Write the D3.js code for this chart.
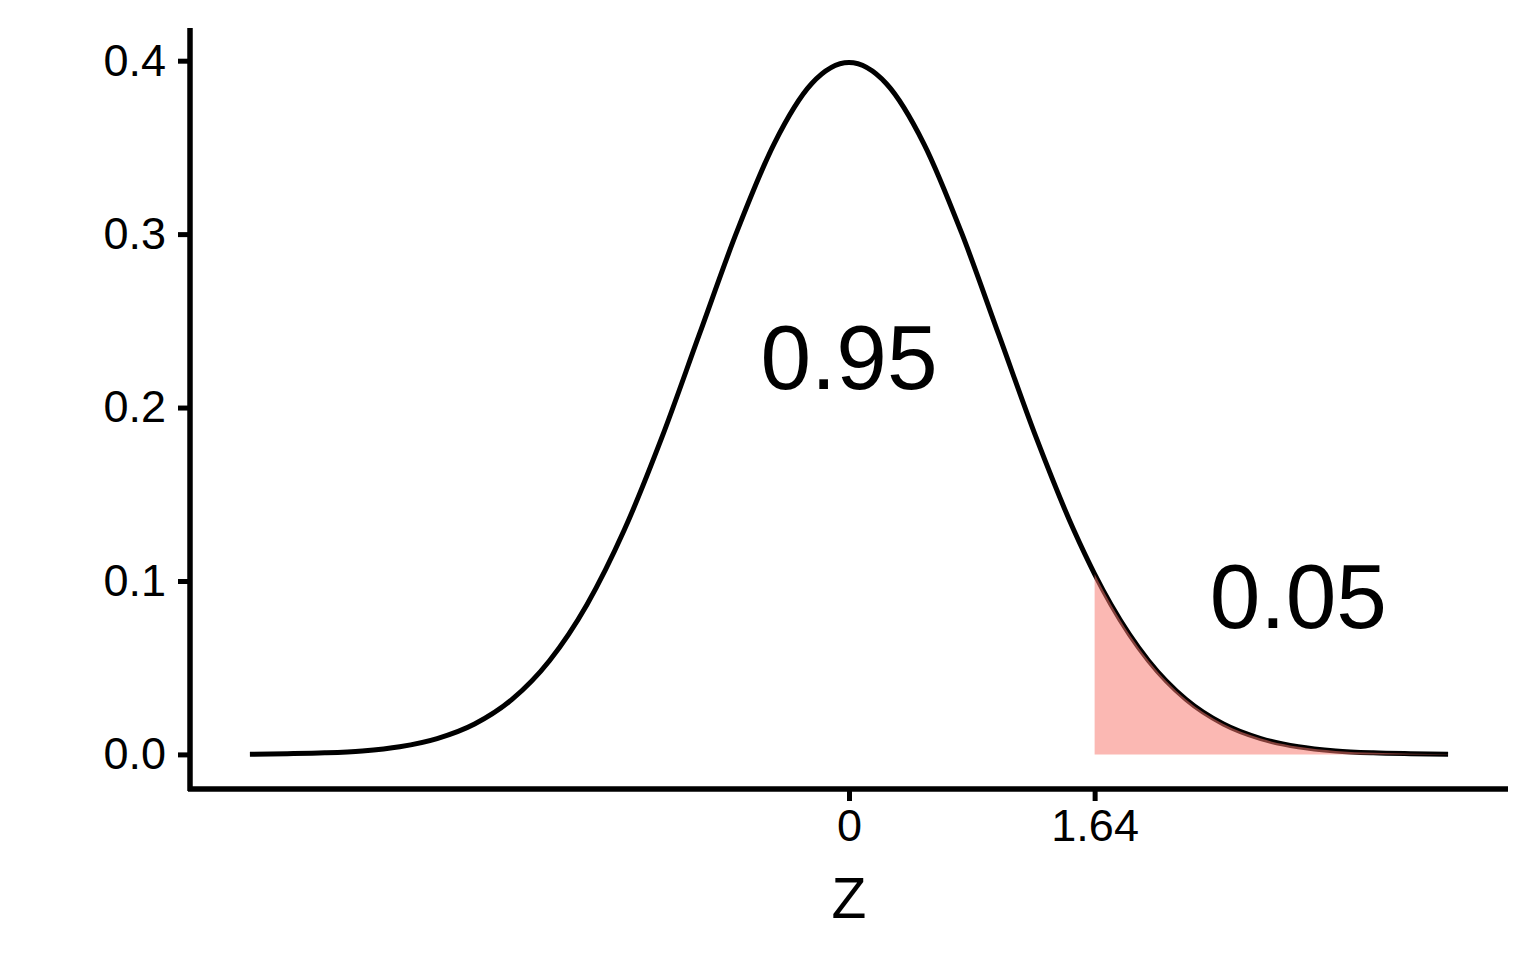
<!DOCTYPE html>
<html><head><meta charset="utf-8">
<script src="https://cdn.jsdelivr.net/npm/d3@7"></script>
<style>body{margin:0;background:#fff}svg text{font-family:"Liberation Sans",Arial,sans-serif;fill:#000}</style>
</head><body><svg id="c" width="1536" height="960"></svg>
<script>
// Density curve (standard normal)
const zValues = [-4,-3.75,-3.5,-3.25,-3,-2.75,-2.5,-2.25,-2,-1.75,-1.5,-1.25,-1,-0.75,-0.5,-0.25,0,0.25,0.5,0.75,1,1.25,1.5,1.64,1.75,2,2.25,2.5,2.75,3,3.25,3.5,3.75,4];
const density = [0.0001,0.0004,0.0009,0.0020,0.0044,0.0091,0.0175,0.0317,0.0540,0.0863,0.1295,0.1826,0.2420,0.3011,0.3521,0.3867,0.3989,0.3867,0.3521,0.3011,0.2420,0.1826,0.1295,0.1040,0.0863,0.0540,0.0317,0.0175,0.0091,0.0044,0.0020,0.0009,0.0004,0.0001];
const cutoff = 1.64;
const xTicks = [0, 1.64];
const xTickLabels = ["0", "1.64"];
const yTicks = [0, 0.1, 0.2, 0.3, 0.4];
const yTickLabels = ["0.0","0.1","0.2","0.3","0.4"];
const labelText = ["0.95", "0.05"];
const labelX = [0, 3];
const labelY = [0.229, 0.091];
const xTitle = "Z";

const pts = zValues.map((z,i)=>({z, d: density[i]}));
const svg = d3.select("#c");
const x = d3.scaleLinear().domain([-4.4, 4.4]).range([190, 1508]);
const y = d3.scaleLinear().domain([-0.01995, 0.41885]).range([789, 28]);

const line = d3.line().x(d=>x(d.z)).y(d=>y(d.d)).curve(d3.curveMonotoneX);
svg.append("path").datum(pts).attr("d", line).attr("fill","none").attr("stroke","#000").style("stroke-width","5px");

const area = d3.area().x(d=>x(d.z)).y0(y(0)).y1(d=>y(d.d)).curve(d3.curveMonotoneX);
svg.append("path").datum(pts.filter(p=>p.z>=cutoff)).attr("d", area).attr("fill","#F8766D").attr("fill-opacity",0.52);

const xAxis = d3.axisBottom(x).tickValues(xTicks).tickFormat((d,i)=>xTickLabels[i]).tickSizeInner(12).tickSizeOuter(0).tickPadding(8);
const gx = svg.append("g").attr("transform","translate(0,789)").call(xAxis);
gx.select(".domain").style("stroke-width","5.5px").attr("d","M188,0H1508");
gx.selectAll(".tick line").style("stroke-width","5px");
gx.selectAll(".tick text").attr("font-size",45).style("font-family","Liberation Sans, Arial, sans-serif").attr("fill","#000");

const yAxis = d3.axisLeft(y).tickValues(yTicks).tickFormat((d,i)=>yTickLabels[i]).tickSizeInner(12).tickSizeOuter(0).tickPadding(12);
const gy = svg.append("g").attr("transform","translate(190,0)").call(yAxis);
gy.select(".domain").style("stroke-width","5.5px").attr("d","M0,28V791");
gy.selectAll(".tick line").style("stroke-width","5px");
gy.selectAll(".tick text").attr("font-size",45).style("font-family","Liberation Sans, Arial, sans-serif").attr("fill","#000");

svg.append("text").attr("x", x(0)).attr("y", 918).attr("text-anchor","middle").attr("font-size",57).text(xTitle);

labelText.forEach((t,i)=>{
  svg.append("text").attr("x", x(labelX[i])).attr("y", y(labelY[i])).attr("text-anchor","middle")
    .attr("dominant-baseline","central").attr("font-size",91).text(t);
});
</script></body></html>
